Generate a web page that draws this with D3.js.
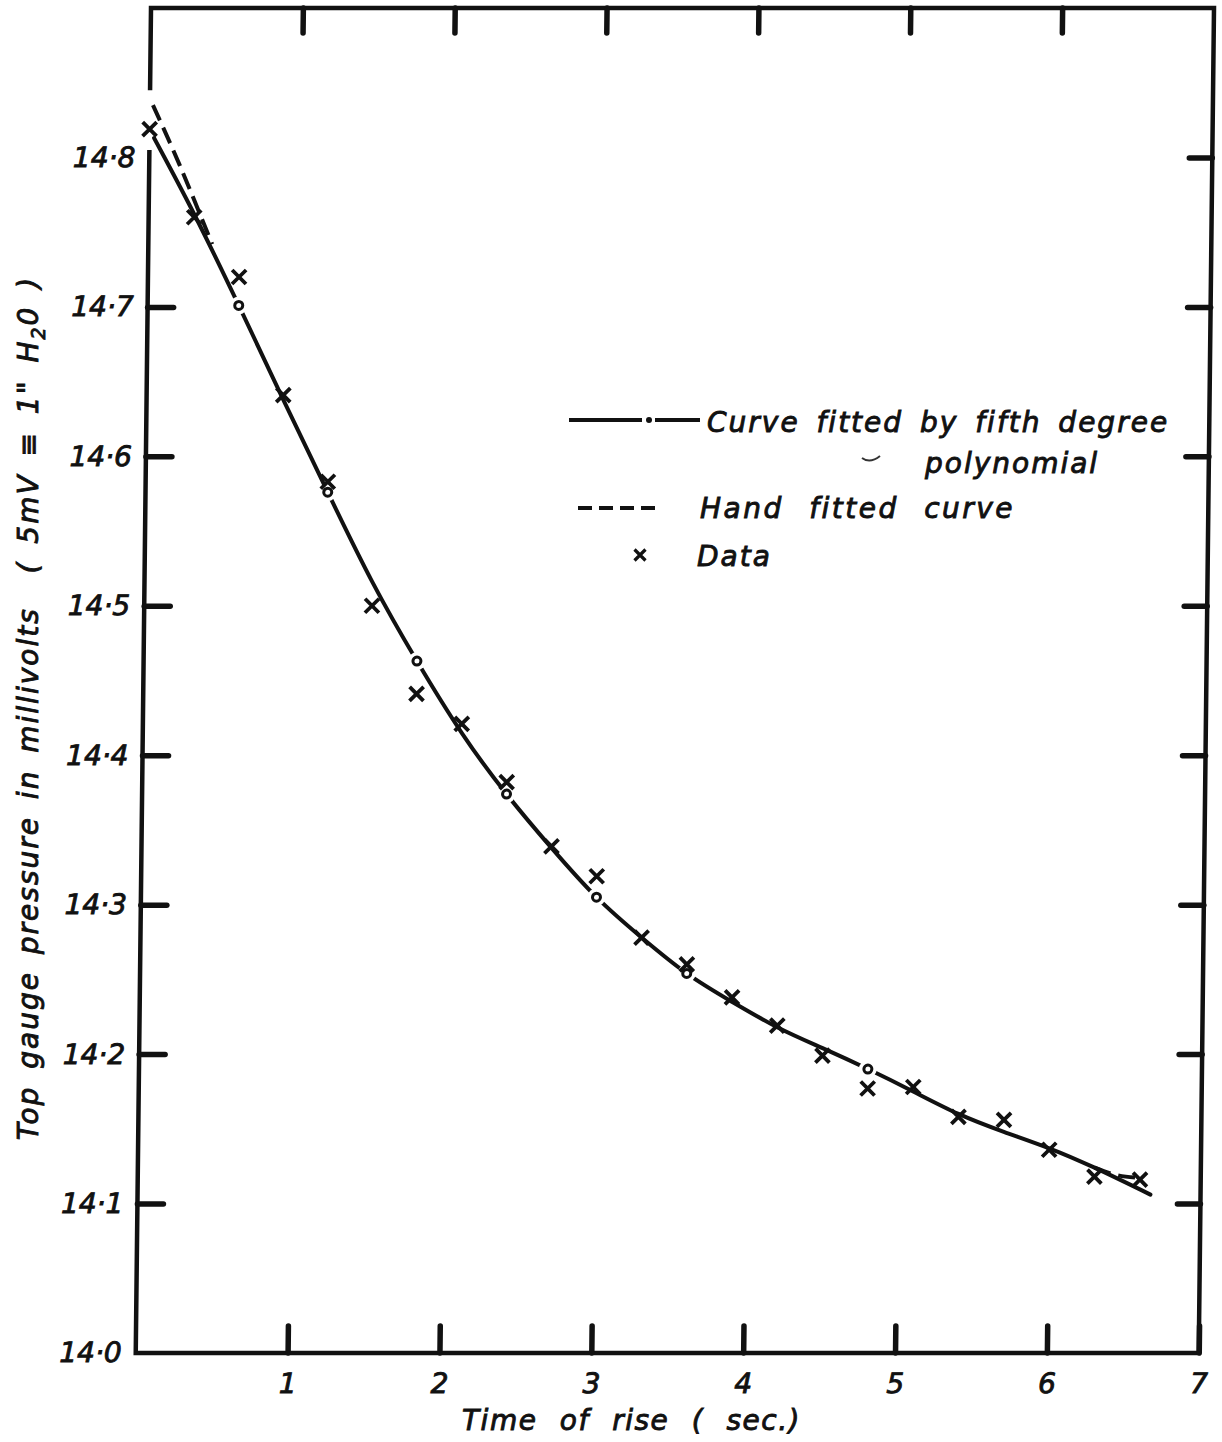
<!DOCTYPE html>
<html>
<head>
<meta charset="utf-8">
<script src="https://cdn.jsdelivr.net/npm/d3@7"></script>
<style>
  body { margin: 0; background: #fff; }
  svg text { font-family: "DejaVu Sans", sans-serif; font-style: italic; fill: #111; stroke: #111; stroke-width: 0.9px; }
</style>
</head>
<body>
<div id="chart"></div>
<script>
// values
const xTicks = [1, 2, 3, 4, 5, 6, 7];
const yTicks = [14.0, 14.1, 14.2, 14.3, 14.4, 14.5, 14.6, 14.7, 14.8];

// measured points (x)
const dataTime = [0.0, 0.3, 0.6, 0.9, 1.2, 1.5, 1.8, 2.1, 2.4, 2.7, 3.0, 3.3,
                  3.6, 3.9, 4.2, 4.5, 4.8, 5.1, 5.4, 5.7, 6.0, 6.3, 6.6];
const dataPressure = [14.819, 14.760, 14.720, 14.641, 14.583, 14.500, 14.441, 14.421,
                      14.382, 14.339, 14.319, 14.278, 14.260, 14.238, 14.219, 14.199,
                      14.177, 14.178, 14.158, 14.156, 14.136, 14.118, 14.116];

// fifth degree polynomial curve, traced
const polyTime = [0.03, 0.3, 0.6, 0.9, 1.2, 1.5, 1.8, 2.1, 2.4, 2.7, 3.0, 3.3,
                  3.6, 3.9, 4.2, 4.5, 4.8, 5.1, 5.4, 5.7, 6.0, 6.3, 6.67];
const polyPressure = [14.813, 14.762, 14.701, 14.638, 14.576, 14.516, 14.463, 14.415,
                      14.374, 14.338, 14.305, 14.278, 14.254, 14.235, 14.218, 14.204,
                      14.190, 14.175, 14.160, 14.148, 14.137, 14.124, 14.106];

// small circles sitting on the polynomial curve
const polyDotTime = [0.6, 1.2, 1.8, 2.4, 3.0, 3.6, 4.8];
const polyDotPressure = [14.701, 14.576, 14.463, 14.374, 14.305, 14.254, 14.190];

// hand fitted curve, only visible where it leaves the polynomial
const handStartTime = [0.02, 0.2, 0.42];
const handStartPressure = [14.835, 14.795, 14.742];
const handEndTime = [6.3, 6.45, 6.62];
const handEndPressure = [14.124, 14.119, 14.117];

const legendLabels = ['Curve fitted by fifth degree', 'polynomial', 'Hand fitted curve', 'Data'];

const margin = {top: 8, left: 151};
const width = 1063;
const height = 1345;

const svg = d3.select('#chart').append('svg')
    .attr('width', 1222)
    .attr('height', 1442);

svg.append('rect').attr('width', 1222).attr('height', 1442).attr('fill', '#fff');

// the scan leans a little, so shear the plot
const g = svg.append('g')
    .attr('transform', 'translate(' + margin.left + ',' + margin.top + ') skewX(-0.65)');

const x = d3.scaleLinear().domain([0, 7]).range([0, width]);
const y = d3.scaleLinear().domain([14.0, 14.9]).range([height, 0]);

// frame, left side broken where the curves start
g.append('path')
    .attr('d', 'M0,' + y(14.845) + 'V0H' + width + 'V' + height + 'H0V' + y(14.805))
    .attr('fill', 'none')
    .attr('stroke', '#111')
    .attr('stroke-width', 4.5);

const fmt = d => d.toFixed(1).replace('.', '·');

function styleAxis(sel) {
  sel.select('.domain').remove();
  sel.attr('font-family', null).attr('font-size', 28);
  sel.selectAll('.tick line')
      .attr('stroke', '#111')
      .attr('stroke-width', 5.5)
      .attr('stroke-linecap', 'round');
}

g.append('g')
    .attr('transform', 'translate(0,' + height + ')')
    .call(d3.axisBottom(x).tickValues(xTicks).tickSize(-27).tickPadding(20).tickFormat(d3.format('d')))
    .call(styleAxis);

g.append('g')
    .call(d3.axisTop(x).tickValues(xTicks.slice(0, 6)).tickSize(-25).tickFormat(''))
    .call(styleAxis);

g.append('g')
    .call(d3.axisLeft(y).tickValues(yTicks).tickSize(-26).tickPadding(14).tickFormat(fmt))
    .call(styleAxis)
    .selectAll('.tick line')
      .filter(d => d === 14.0 || d === 14.8)
      .remove();

g.append('g')
    .attr('transform', 'translate(' + width + ',0)')
    .call(d3.axisRight(y).tickValues(yTicks.slice(1)).tickSize(-23).tickFormat(''))
    .call(styleAxis);

g.selectAll('.tick text').attr('fill', '#111');

// curves
const line = d3.line()
    .x(d => x(d[0]))
    .y(d => y(d[1]))
    .curve(d3.curveNatural);

g.append('path')
    .datum(d3.zip(polyTime, polyPressure))
    .attr('d', line)
    .attr('fill', 'none')
    .attr('stroke', '#111')
    .attr('stroke-width', 4)
    .attr('stroke-linecap', 'round');

[d3.zip(handStartTime, handStartPressure), d3.zip(handEndTime, handEndPressure)].forEach(seg => {
  g.append('path')
      .datum(seg)
      .attr('d', line)
      .attr('fill', 'none')
      .attr('stroke', '#111')
      .attr('stroke-width', 4)
      .attr('stroke-dasharray', '17,8');
});

const dots = d3.zip(polyDotTime, polyDotPressure);

// break the curve around each little circle
g.selectAll('.gap')
    .data(dots)
  .enter().append('circle')
    .attr('class', 'gap')
    .attr('cx', d => x(d[0]))
    .attr('cy', d => y(d[1]))
    .attr('r', 9)
    .attr('fill', '#fff');

g.selectAll('.dot')
    .data(dots)
  .enter().append('circle')
    .attr('class', 'dot')
    .attr('cx', d => x(d[0]))
    .attr('cy', d => y(d[1]))
    .attr('r', 4)
    .attr('fill', '#fff')
    .attr('stroke', '#111')
    .attr('stroke-width', 3);

const cross = 'M-7,-7L7,7M-7,7L7,-7';

g.selectAll('.node')
    .data(d3.zip(dataTime, dataPressure))
  .enter().append('path')
    .attr('class', 'node')
    .attr('transform', d => 'translate(' + x(d[0]) + ',' + y(d[1]) + ')')
    .attr('d', cross)
    .attr('stroke', '#111')
    .attr('stroke-width', 3.8)
    .attr('fill', 'none');

// axis titles
svg.append('text')
    .attr('x', 462)
    .attr('y', 1430)
    .attr('font-size', 28)
    .attr('letter-spacing', 1.5)
    .attr('word-spacing', 12)
    .text('Time of rise ( sec.)');

const yTitle = svg.append('text')
    .attr('transform', 'translate(38,708) rotate(-90)')
    .attr('text-anchor', 'middle')
    .attr('font-size', 28)
    .attr('letter-spacing', 2)
    .attr('word-spacing', 6)
    .style('white-space', 'pre');
yTitle.append('tspan').text('Top gauge pressure in millivolts  ( 5mV \u2261 1" H');
yTitle.append('tspan').attr('font-size', 19).attr('dy', 7).text('2');
yTitle.append('tspan').attr('dy', -7).text('0 )');

// legend
const legend = svg.append('g');
legend.selectAll('text')
    .data(legendLabels)
  .enter().append('text')
    .attr('x', (d, i) => [707, 925, 700, 697][i])
    .attr('y', (d, i) => [422, 463, 508, 556][i])
    .attr('dy', '0.35em')
    .attr('font-size', 28)
    .attr('letter-spacing', (d, i) => i === 2 ? 2.5 : 2)
    .attr('word-spacing', (d, i) => i === 2 ? 14 : 6)
    .text(d => d);

legend.append('path')
    .attr('d', 'M569,420H642M655,420H700')
    .attr('stroke', '#111')
    .attr('stroke-width', 4);
legend.append('circle')
    .attr('cx', 649).attr('cy', 420).attr('r', 3)
    .attr('fill', '#111');
legend.append('path')
    .attr('d', 'M862,458Q870,464 880,456')
    .attr('stroke', '#333')
    .attr('stroke-width', 2)
    .attr('fill', 'none');
legend.append('path')
    .attr('d', 'M578,508H655')
    .attr('stroke', '#111')
    .attr('stroke-width', 4)
    .attr('stroke-dasharray', '14,7');
legend.append('path')
    .attr('transform', 'translate(640,555)')
    .attr('d', 'M-5.5,-5.5L5.5,5.5M-5.5,5.5L5.5,-5.5')
    .attr('stroke', '#111')
    .attr('stroke-width', 3.2);
</script>
</body>
</html>
